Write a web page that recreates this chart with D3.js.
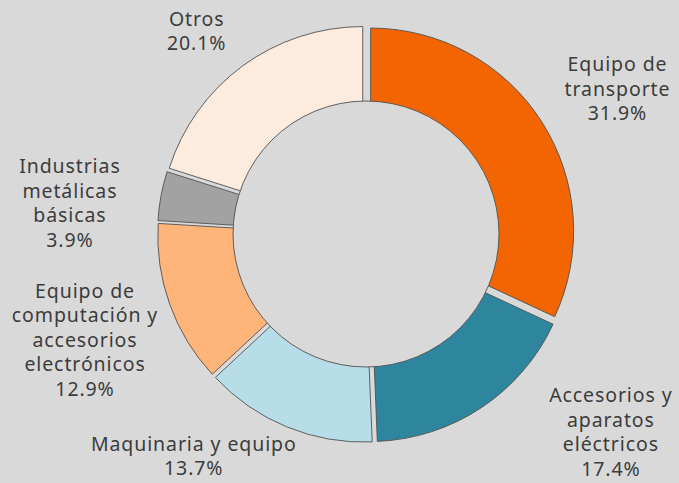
<!DOCTYPE html>
<html>
<head>
<meta charset="utf-8">
<script src="https://cdn.jsdelivr.net/npm/d3@7"></script>
<style>
  html, body { margin: 0; padding: 0; background: #d9d9d9; }
  svg { display: block; }
</style>
</head>
<body>
<div id="chart"></div>
<script>
const width = 679;
const height = 483;

// data
var categories = [
  ["Equipo de", "transporte"],
  ["Accesorios y", "aparatos", "eléctricos"],
  ["Maquinaria y equipo"],
  ["Equipo de", "computación y", "accesorios", "electrónicos"],
  ["Industrias", "metálicas", "básicas"],
  ["Otros"]
];
var shares = [31.9, 17.4, 13.7, 12.9, 3.9, 20.1];
var colors = ["#f26500", "#2e869e", "#b7dde8", "#ffb479", "#a2a2a2", "#fdebdd"];

// label nudges from the label ring, in px
var labelShift = [[7, 11], [84, -43], [-62, -46], [-8, 8], [-11, 22], [2, 31]];

var cx = 366, cy = 234;
var R = 203, hole = 133, explode = 5.5, labelR = 290;

var svg = d3.select("#chart")
  .append("svg")
  .attr("width", width)
  .attr("height", height);

svg.append("rect")
  .attr("width", width)
  .attr("height", height)
  .attr("fill", "#d9d9d9");

var g = svg.append("g")
  .attr("transform", "translate(" + cx + "," + cy + ")");

var pie = d3.pie().sort(null).value(function (d) { return d; });
var arcs = pie(shares);

var arc = d3.arc().innerRadius(0).outerRadius(R);

function mid(d) { return (d.startAngle + d.endAngle) / 2; }

g.selectAll("path.slice")
  .data(arcs)
  .enter()
  .append("path")
  .attr("class", "slice")
  .attr("d", arc)
  .attr("fill", function (d, i) { return colors[i]; })
  .attr("stroke", "#505050")
  .attr("stroke-width", 0.9)
  .attr("transform", function (d) {
    var a = mid(d);
    return "translate(" + (Math.sin(a) * explode) + "," + (-Math.cos(a) * explode) + ")";
  });

// centre hole
g.append("circle")
  .attr("r", hole)
  .attr("fill", "#d9d9d9")
  .attr("stroke", "#505050")
  .attr("stroke-width", 0.9);

var lineH = 24.5;

var labels = g.selectAll("text.lab")
  .data(arcs)
  .enter()
  .append("text")
  .attr("class", "lab")
  .attr("text-anchor", "middle")
  .style("font-family", "'Noto Sans', sans-serif")
  .style("font-size", "19.5px")
  .style("letter-spacing", "0.9px")
  .attr("fill", "#3c3c3c")
  .each(function (d, i) {
    var a = mid(d);
    var x = Math.sin(a) * labelR + labelShift[i][0];
    var y = -Math.cos(a) * labelR + labelShift[i][1];
    var lines = categories[i].concat([d3.format(".1f")(shares[i]) + "%"]);
    var top = y - (lines.length - 1) * lineH / 2;
    var t = d3.select(this);
    lines.forEach(function (s, k) {
      t.append("tspan")
        .attr("x", x)
        .attr("y", top + k * lineH)
        .attr("dy", "0.35em")
        .text(s);
    });
  });
</script>
</body>
</html>
